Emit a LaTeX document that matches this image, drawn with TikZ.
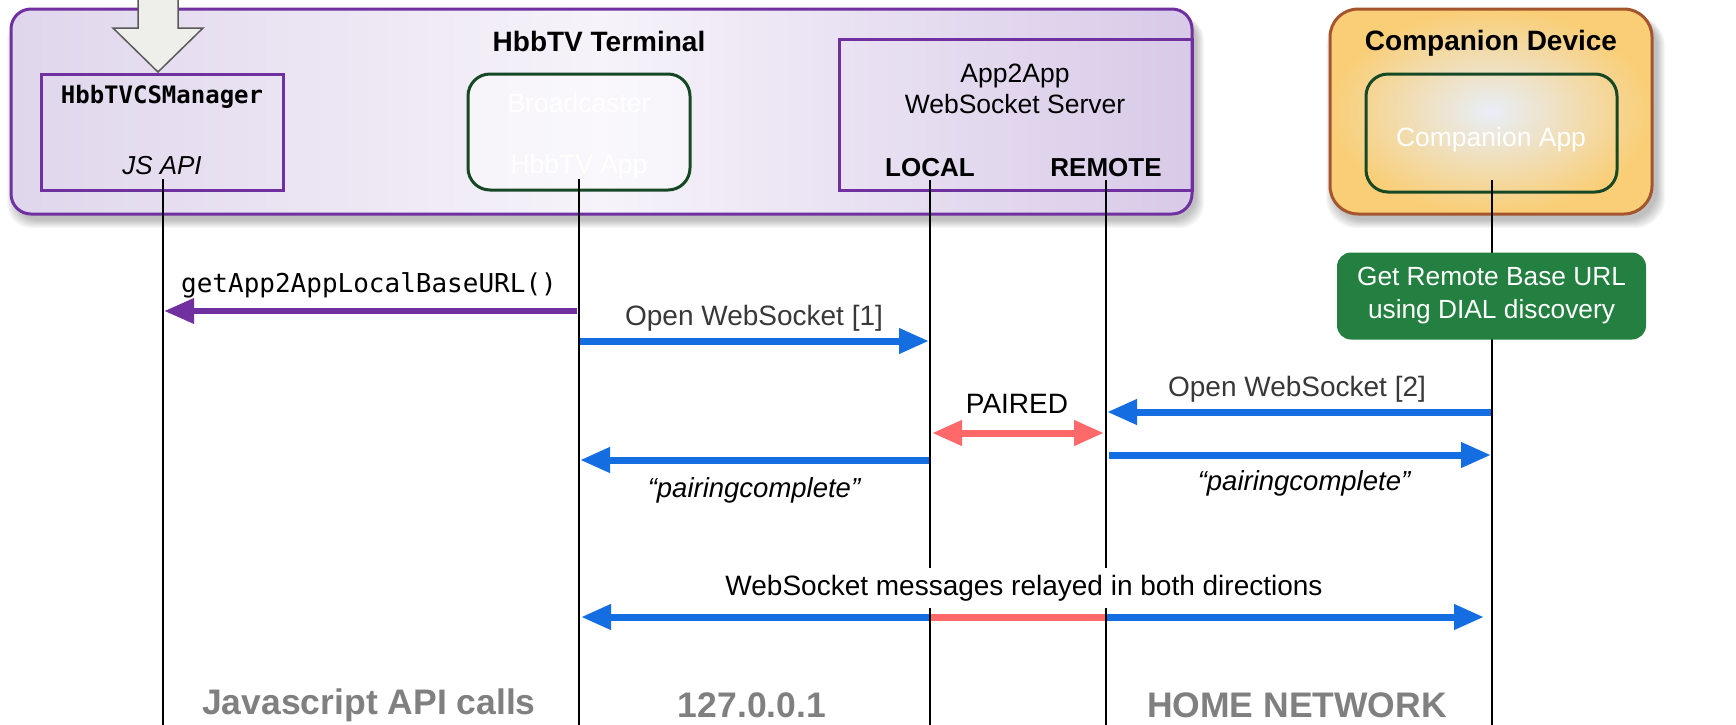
\documentclass[tikz,border=0pt]{standalone}
\usepackage{fontspec}
\setmainfont{Liberation Sans}
\newfontfamily\monofont{DejaVu Sans Mono}
\usetikzlibrary{arrows.meta}
\definecolor{tvpurple}{RGB}{112,48,160}
\definecolor{arrblue}{RGB}{20,110,225}
\definecolor{salmon}{RGB}{255,105,105}
\definecolor{dkgreen}{RGB}{22,72,38}
\definecolor{boxgreen}{RGB}{36,128,64}
\definecolor{devbrown}{RGB}{165,85,45}
\definecolor{devorange}{RGB}{249,206,118}
\definecolor{devcenter}{RGB}{232,238,248}
\definecolor{lavedge}{RGB}{224,214,236}
\definecolor{lavmid}{RGB}{246,243,250}
\definecolor{lavright}{RGB}{216,202,232}
\definecolor{labgray}{RGB}{128,128,128}
\definecolor{arrowgray}{RGB}{238,238,234}
\begin{document}
\begin{tikzpicture}[x=1pt,y=-1pt,
  every node/.style={inner sep=0pt, outer sep=0pt},
  txt/.style={font=\fontsize{26.5}{31}\selectfont, align=center},
  ttl/.style={font=\fontsize{28}{33}\selectfont\bfseries},
  boldtxt/.style={font=\fontsize{26}{31}\selectfont\bfseries},
  wtxt/.style={txt, text=white},
  lbl/.style={font=\fontsize{28}{33}\selectfont, text=black!78},
  itl/.style={font=\fontsize{27.5}{33}\selectfont\itshape},
  botlbl/.style={font=\fontsize{35.5}{41}\selectfont\bfseries, text=labgray},
  monob/.style={font=\fontsize{24}{30}\selectfont\monofont\bfseries},
  monor/.style={font=\fontsize{26}{30}\selectfont\monofont},
  lifeline/.style={draw=black, line width=1.5pt},
  flow/.style={line width=7pt, -{Triangle[length=30pt,width=24pt]}},
  flowtwo/.style={line width=7pt, {Triangle[length=30pt,width=24pt]}-{Triangle[length=30pt,width=24pt]}},
  shadowlayer/.style={fill=black, opacity=0.03},
]
\useasboundingbox (0,0) rectangle (1736,724);

% ---------- shadows ----------
\foreach \d in {1,...,9} {
  \fill[shadowlayer, rounded corners=24pt] (16-\d,16) rectangle (1195+\d,219+\d);
  \fill[shadowlayer, rounded corners=30pt] (1335-\d,16) rectangle (1656+\d,219+\d);
}

% ---------- container boxes ----------
\node[draw=tvpurple, line width=3pt, rounded corners=20pt,
      minimum width=1181pt, minimum height=205pt,
      left color=lavedge, right color=lavright, middle color=lavmid] (termbox) at (601.5,111.5) {};
\node[draw=devbrown, line width=3pt, rounded corners=28pt,
      minimum width=322pt, minimum height=205pt,
      inner color=devcenter, outer color=devorange] (cdevbox) at (1491,111.5) {};

% top gray arrow
\draw[draw=black!65, line width=1.5pt, fill=arrowgray]
  (138,-5) -- (138,28) -- (113,28) -- (158,72) -- (203,28) -- (178,28) -- (178,-5) -- cycle;

% inner boxes
\node[draw=tvpurple, line width=3pt, minimum width=242pt, minimum height=116pt] (csmbox) at (162,132) {};
\node[draw=dkgreen, line width=3pt, rounded corners=22pt, fill=white, fill opacity=0.45,
      minimum width=222pt, minimum height=116pt] (bcbox) at (579,132) {};
\node[draw=tvpurple, line width=3pt, minimum width=353pt, minimum height=151pt] (a2abox) at (1015.5,114.5) {};
\node[draw=dkgreen, line width=3pt, rounded corners=22pt,
      minimum width=251pt, minimum height=118pt] (cappbox) at (1491.5,133) {};

% texts in boxes
\node[ttl] (term) at (599,41) {HbbTV Terminal};
\node[ttl] (cdev) at (1491,43) {Companion Device};
\node[monob] (csm) at (162,97) {HbbTVCSManager};
\node[itl, font=\fontsize{26}{31}\selectfont\itshape] (jsapi) at (162,166) {JS API};
\node[wtxt] (bc) at (579,103) {Broadcaster};
\node[wtxt] (happ) at (579,167) {HbbTV App};
\node[txt] (a2a) at (1015,89) {App2App\\WebSocket Server};
\node[boldtxt] (local) at (930,168) {LOCAL};
\node[boldtxt] (remote) at (1106,168) {REMOTE};
\node[wtxt] (capp) at (1491,140) {Companion App};

% lifeline coordinates
\coordinate (l1t) at (163,179); \coordinate (l1b) at (163,730);
\coordinate (l2t) at (579,179); \coordinate (l2b) at (579,730);
\coordinate (l3t) at (930,180); \coordinate (l3b) at (930,730);
\coordinate (l4t) at (1106,180); \coordinate (l4b) at (1106,730);
\coordinate (l5t) at (1492,180); \coordinate (l5b) at (1492,730);

% arrow end coordinates
\coordinate (pA) at (577,311); \coordinate (pB) at (164,311);
\coordinate (o1A) at (579,341); \coordinate (o1B) at (929,341);
\coordinate (o2A) at (1492,412); \coordinate (o2B) at (1107,412);
\coordinate (prA) at (932,433); \coordinate (prB) at (1104,433);
\coordinate (pcLA) at (929,460); \coordinate (pcLB) at (580,460);
\coordinate (pcRA) at (1109,455); \coordinate (pcRB) at (1491,455);
\coordinate (rlA) at (581,617); \coordinate (rlB) at (1484,617);
\coordinate (rdA) at (930,617); \coordinate (rdB) at (1106,617);

% arrows
\draw[flow, draw=tvpurple, line width=6.5pt] (pA) -- (pB);
\draw[flow, draw=arrblue] (o1A) -- (o1B);
\draw[flow, draw=arrblue] (o2A) -- (o2B);
\draw[flowtwo, draw=salmon] (prA) -- (prB);
\draw[flow, draw=arrblue] (pcLA) -- (pcLB);
\draw[flow, draw=arrblue] (pcRA) -- (pcRB);
\draw[flowtwo, draw=arrblue] (rlA) -- (rlB);
\draw[line width=7pt, draw=salmon] (rdA) -- (rdB);

% lifelines
\draw[lifeline] (l1t) -- (l1b);
\draw[lifeline] (l2t) -- (l2b);
\draw[lifeline] (l3t) -- (l3b);
\draw[lifeline] (l4t) -- (l4b);
\draw[lifeline] (l5t) -- (l5b);

% DIAL box (over companion lifeline)
\node[fill=boxgreen, rounded corners=14pt, minimum width=309pt, minimum height=87pt,
      txt, text=white, font=\fontsize{26.3}{33}\selectfont] (dial) at (1491.5,296)
      {Get Remote Base URL\\using DIAL discovery};

% labels
\node[monor] (getl) at (369,285) {getApp2AppLocalBaseURL()};
\node[lbl] (o1l) at (754,318) {Open WebSocket [1]};
\node[lbl] (o2l) at (1297,389) {Open WebSocket [2]};
\node[txt, font=\fontsize{28}{33}\selectfont] (prl) at (1017,404) {PAIRED};
\node[itl] (pcLl) at (754,490) {“pairingcomplete”};
\node[itl] (pcRl) at (1304,483) {“pairingcomplete”};
\node[txt, font=\fontsize{28}{33}\selectfont, fill=white, inner ysep=7pt, inner xsep=3pt] (rll) at (1024,588) {WebSocket messages relayed in both directions};

% bottom labels
\node[botlbl] (jsl) at (369,705) {Javascript API calls};
\node[botlbl] (lhl) at (752,705) {127.0.0.1};
\node[botlbl] (hnl) at (1297,705) {HOME NETWORK};
\end{tikzpicture}
\end{document}
